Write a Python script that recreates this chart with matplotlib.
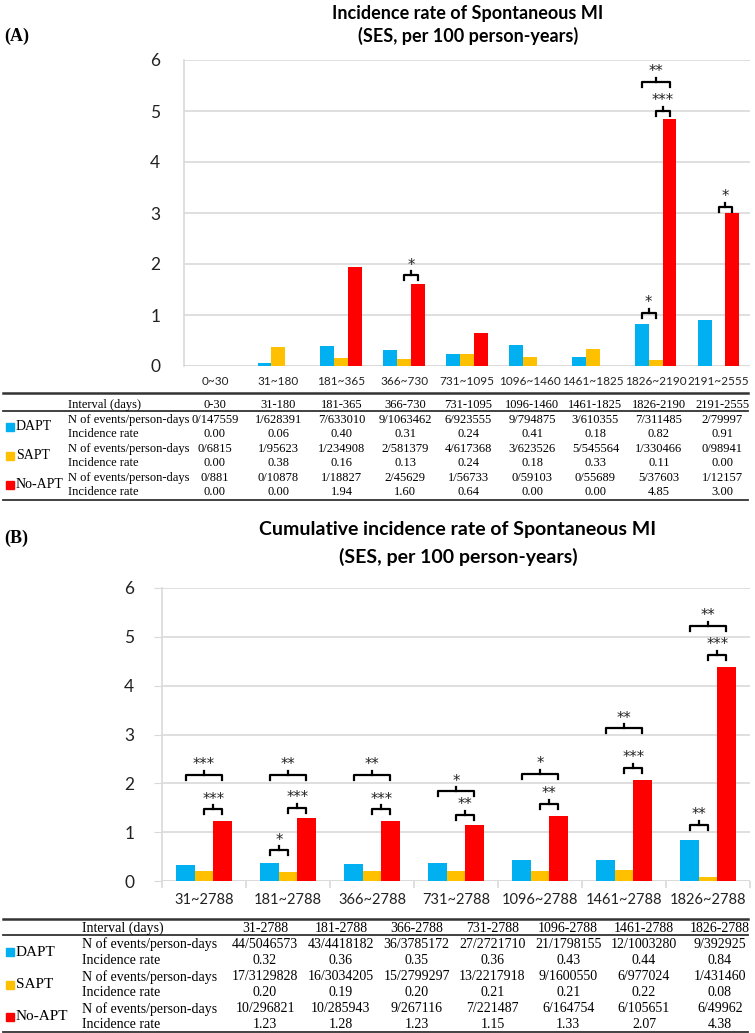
import matplotlib
matplotlib.use("Agg")
import matplotlib.pyplot as plt
from matplotlib.patches import Rectangle
import numpy as np

W, H = 755, 1033

series = ["DAPT", "SAPT", "No-APT"]
colors = ["#00B0F0", "#FFC000", "#FF0000"]

# (A) incidence per interval
a_labels = ["0~30", "31~180", "181~365", "366~730", "731~1095",
            "1096~1460", "1461~1825", "1826~2190", "2191~2555"]
a_intervals = ["0-30", "31-180", "181-365", "366-730", "731-1095",
               "1096-1460", "1461-1825", "1826-2190", "2191-2555"]
a_dapt = [0.00, 0.06, 0.40, 0.31, 0.24, 0.41, 0.18, 0.82, 0.91]
a_sapt = [0.00, 0.38, 0.16, 0.13, 0.24, 0.18, 0.33, 0.11, 0.00]
a_noapt = [0.00, 0.00, 1.94, 1.60, 0.64, 0.00, 0.00, 4.85, 3.00]
a_dapt_n = ["0/147559", "1/628391", "7/633010", "9/1063462", "6/923555",
            "9/794875", "3/610355", "7/311485", "2/79997"]
a_sapt_n = ["0/6815", "1/95623", "1/234908", "2/581379", "4/617368",
            "3/623526", "5/545564", "1/330466", "0/98941"]
a_noapt_n = ["0/881", "0/10878", "1/18827", "2/45629", "1/56733",
             "0/59103", "0/55689", "5/37603", "1/12157"]
# (group, bar from, bar to, level, stars)
a_sig = [(3, 1, 2, 1.78, "*"), (7, 0, 1, 1.04, "*"), (7, 1, 2, 5.00, "***"),
         (7, 0, 2, 5.57, "**"), (8, 1, 2, 3.12, "*")]

# (B) cumulative incidence
b_labels = ["31~2788", "181~2788", "366~2788", "731~2788",
            "1096~2788", "1461~2788", "1826~2788"]
b_intervals = ["31-2788", "181-2788", "366-2788", "731-2788",
               "1096-2788", "1461-2788", "1826-2788"]
b_dapt = [0.32, 0.36, 0.35, 0.36, 0.43, 0.44, 0.84]
b_sapt = [0.20, 0.19, 0.20, 0.21, 0.21, 0.22, 0.08]
b_noapt = [1.23, 1.28, 1.23, 1.15, 1.33, 2.07, 4.38]
b_dapt_n = ["44/5046573", "43/4418182", "36/3785172", "27/2721710",
            "21/1798155", "12/1003280", "9/392925"]
b_sapt_n = ["17/3129828", "16/3034205", "15/2799297", "13/2217918",
            "9/1600550", "6/977024", "1/431460"]
b_noapt_n = ["10/296821", "10/285943", "9/267116", "7/221487",
             "6/164754", "6/105651", "6/49962"]
b_sig = [(0, 0, 2, 2.17, "***"), (0, 1, 2, 1.47, "***"),
         (1, 0, 2, 2.17, "**"), (1, 1, 2, 1.50, "***"), (1, 0, 1, 0.63, "*"),
         (2, 0, 2, 2.17, "**"), (2, 1, 2, 1.47, "***"),
         (3, 0, 2, 1.84, "*"), (3, 1, 2, 1.35, "**"),
         (4, 0, 2, 2.19, "*"), (4, 1, 2, 1.58, "**"),
         (5, 0, 2, 3.13, "**"), (5, 1, 2, 2.32, "***"),
         (6, 0, 1, 1.15, "**"), (6, 1, 2, 4.63, "***"), (6, 0, 2, 5.22, "**")]

SANS = ["Lato", "DejaVu Sans"]
SERIF = ["Liberation Serif", "DejaVu Serif"]
GRID = "#d9d9d9"
BW = 0.22


def fx(x):
    return x / W


def fy(y):
    return 1 - y / H


def make_axes(fig, box, cats, vals, sig, xfs, ppu, xticks):
    l, t, r, b = box
    ax = fig.add_axes([fx(l), fy(b), fx(r) - fx(l), fy(t) - fy(b)])
    x = np.arange(len(cats))
    for k, v in enumerate(vals):
        ax.bar(x + (k - 1) * BW, v, BW, color=colors[k], zorder=3)
    ax.set_xlim(-0.5, len(cats) - 0.5)
    ax.set_ylim(0, 6)
    ax.set_yticks(range(7))
    ax.yaxis.grid(True, color=GRID, lw=1.2, zorder=0)
    for s in ["top", "right", "bottom"]:
        ax.spines[s].set_visible(False)
    ax.spines["left"].set_color(GRID)
    ax.spines["left"].set_linewidth(1.2)
    ax.axhline(0, color=GRID, lw=1.2, zorder=1)
    ax.set_xticks(x)
    ax.set_xticklabels(cats, fontsize=xfs, family=SANS, color="#222222")
    ax.tick_params(axis="x", length=0, pad=7 if not xticks else 9)
    ax.tick_params(axis="y", labelsize=12.5, colors="#222222", length=6 if xticks else 0,
                   color=GRID, pad=14 if xticks else 17)
    for lab in ax.get_yticklabels():
        lab.set_family(SANS)
    if xticks:
        ax.set_xticks(np.arange(len(cats) + 1) - 0.5, minor=True)
        ax.tick_params(axis="x", which="minor", length=5, color=GRID, width=1.2)
    # significance brackets
    d = 5 / ppu
    for g, i, j, lvl, st in sig:
        x1 = g + (i - 1) * BW
        x2 = g + (j - 1) * BW
        xm = (x1 + x2) / 2
        ax.plot([x1, x1, x2, x2], [lvl - d, lvl, lvl, lvl - d], color="black",
                lw=1.6, zorder=4, solid_joinstyle="round")
        ax.plot([xm, xm], [lvl, lvl + d * 0.8], color="black", lw=1.6, zorder=4)
        ax.annotate(st, (xm, lvl + d * 0.8), xytext=(0, -1), textcoords="offset points",
                    ha="center", va="bottom", fontsize=10.5,
                    family=["DejaVu Sans"], color="#222222")
    return ax


def draw_table(fig, intervals, rows_n, rates, cols, ys, rules, lab_x, fs):
    top, mid, bot = rules
    for yy, lw in [(top, 1.8), (mid, 1.3), (bot, 1.3)]:
        fig.add_artist(plt.Line2D([fx(3), fx(748)], [fy(yy), fy(yy)],
                                  color="#333333", lw=lw))
    fig.text(fx(lab_x), fy(ys[0]), "Interval (days)", family=SERIF,
             fontsize=fs, va="center", ha="left")
    for c, s in zip(cols, intervals):
        fig.text(fx(c), fy(ys[0]), s, family=SERIF, fontsize=fs,
                 va="center", ha="center")
    for k in range(3):
        yn, yr = ys[1 + 2 * k], ys[2 + 2 * k]
        fig.text(fx(lab_x), fy(yn), "N of events/person-days", family=SERIF,
                 fontsize=fs, va="center", ha="left")
        fig.text(fx(lab_x), fy(yr), "Incidence rate", family=SERIF,
                 fontsize=fs, va="center", ha="left")
        ymid = (yn + yr) / 2
        sq = 8
        fig.add_artist(Rectangle((fx(6), fy(ymid + sq / 2)), sq / W, sq / H,
                                 transform=fig.transFigure, color=colors[k]))
        fig.text(fx(16), fy(ymid), series[k], family=SERIF, fontsize=fs + 1,
                 va="center", ha="left")
        for c, n, r in zip(cols, rows_n[k], rates[k]):
            fig.text(fx(c), fy(yn), n, family=SERIF, fontsize=fs,
                     va="center", ha="center")
            fig.text(fx(c), fy(yr), f"{r:.2f}", family=SERIF, fontsize=fs,
                     va="center", ha="center")


fig = plt.figure(figsize=(W / 100, H / 100), dpi=100)

# panel A
make_axes(fig, (184, 60, 750, 366), a_labels, [a_dapt, a_sapt, a_noapt],
          a_sig, 8.5, 51, False)
fig.text(fx(468), fy(13), "Incidence rate of Spontaneous MI", family=SANS,
         fontweight="bold", fontsize=13, ha="center", va="center")
fig.text(fx(468), fy(36), "(SES, per 100 person-years)", family=SANS,
         fontweight="bold", fontsize=13, ha="center", va="center")
fig.text(fx(4), fy(36), "(A)", family=SERIF, fontweight="bold", fontsize=13,
         ha="left", va="center")
a_cols = [215 + 63.4 * i for i in range(len(a_intervals))]
draw_table(fig, a_intervals, [a_dapt_n, a_sapt_n, a_noapt_n],
           [a_dapt, a_sapt, a_noapt], a_cols,
           [405, 420, 434, 449, 463, 478, 492], (393, 411.5, 500), 68, 9)

# panel B
make_axes(fig, (162, 588, 750, 881), b_labels, [b_dapt, b_sapt, b_noapt],
          b_sig, 10.5, 48.8, True)
fig.text(fx(458), fy(530), "Cumulative incidence rate of Spontaneous MI",
         family=SANS, fontweight="bold", fontsize=14, ha="center", va="center")
fig.text(fx(458), fy(557), "(SES, per 100 person-years)", family=SANS,
         fontweight="bold", fontsize=14, ha="center", va="center")
fig.text(fx(4), fy(538), "(B)", family=SERIF, fontweight="bold", fontsize=13,
         ha="left", va="center")
b_cols = [265 + 75.8 * i for i in range(len(b_intervals))]
draw_table(fig, b_intervals, [b_dapt_n, b_sapt_n, b_noapt_n],
           [b_dapt, b_sapt, b_noapt], b_cols,
           [928, 944, 960, 977, 993, 1009, 1024], (919, 935, 1031.5), 82, 10)

fig.savefig("out.png", dpi=100)
